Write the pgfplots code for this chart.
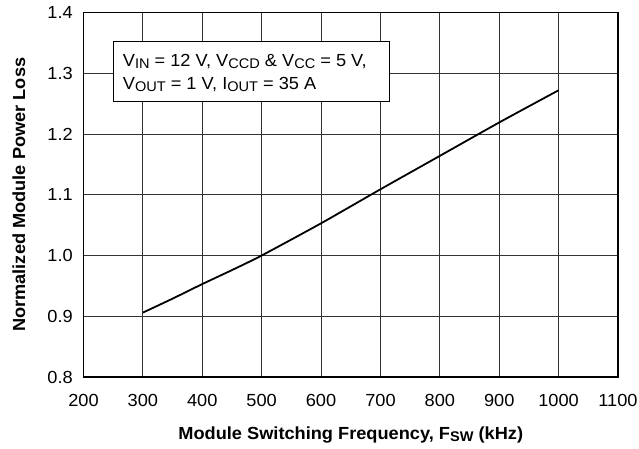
\documentclass[border=0pt]{standalone}
\usepackage{fontspec}
\setmainfont[FakeStretch=1.04]{Liberation Sans}
\usepackage{pgfplots}
\pgfplotsset{compat=1.18}

% subscript as set in the datasheet
\newcommand{\sub}[1]{\raisebox{-2.2pt}{\fontsize{14}{14}\selectfont #1}}

\begin{document}
\begin{tikzpicture}
\begin{axis}[
  width=534.5pt, height=364.5pt, scale only axis,
  xmin=200, xmax=1100, ymin=0.8, ymax=1.4,
  xtick={200,300,400,500,600,700,800,900,1000,1100},
  ytick={0.8,0.9,1.0,1.1,1.2,1.3,1.4},
  /pgf/number format/assume math mode=true,
  /pgf/number format/1000 sep={},
  yticklabel style={/pgf/number format/fixed, /pgf/number format/fixed zerofill,
    /pgf/number format/precision=1,
    anchor=east, inner sep=0pt, xshift=-10.5pt},
  tick label style={font=\fontsize{17.5}{20}\selectfont},
  xticklabel style={anchor=base, inner sep=0pt, yshift=-29pt},
  major tick length=0pt,
  grid=major,
  major grid style={black!80, line width=0.9pt},
  axis line style={line width=1.8pt},
  xlabel={Module Switching Frequency, F\sub{SW} (kHz)},
  ylabel={Normalized Module Power Loss},
  label style={font=\bfseries\fontsize{17.5}{20}\selectfont},
  xlabel style={at={(axis description cs:0.5,-0.1701)}, anchor=base, inner sep=0pt},
  ylabel style={at={(axis description cs:-0.1094,0.5)}, anchor=base, inner sep=0pt},
]
\addplot[black, line width=1.8pt, smooth, tension=0.4] coordinates {
  (300,0.906) (350,0.929) (400,0.953) (450,0.976) (500,1.000)
  (600,1.053) (700,1.109) (800,1.164) (900,1.219) (1000,1.272)
};
\draw[fill=white, line width=1pt] (axis cs:250,1.352) rectangle (axis cs:715,1.254);
\node[anchor=base west, inner sep=0pt, font=\fontsize{17.5}{20}\selectfont]
  at (axis cs:266,1.3119) {V\sub{IN} = 12 V, V\sub{CCD} \& V\sub{CC} = 5 V,};
\node[anchor=base west, inner sep=0pt, font=\fontsize{17.5}{20}\selectfont]
  at (axis cs:266,1.2736) {V\sub{OUT} = 1 V, I\sub{OUT} = 35 A};
\end{axis}
\pgfresetboundingbox
\path (-83.5pt,-71pt) rectangle (555.5pt,377pt);
\end{tikzpicture}
\end{document}
